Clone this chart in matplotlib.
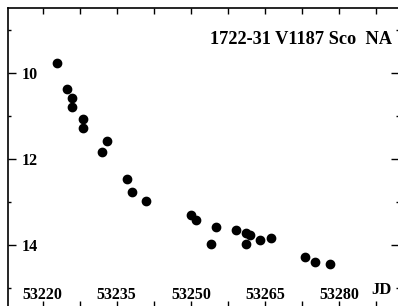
import matplotlib
matplotlib.use('Agg')
import matplotlib.pyplot as plt
from matplotlib.ticker import MultipleLocator

# light curve
jd = [53223.0, 53225.0, 53226.0, 53226.0, 53228.2, 53228.2, 53233.0, 53232.0,
      53237.0, 53238.0, 53240.9, 53250.0, 53251.1, 53255.0, 53254.1, 53259.1,
      53261.1, 53262.0, 53261.1, 53264.0, 53266.2, 53273.0, 53275.1, 53278.1]
mag = [9.77, 10.38, 10.59, 10.79, 11.08, 11.27, 11.57, 11.83,
       12.47, 12.77, 12.98, 13.31, 13.41, 13.58, 13.97, 13.66,
       13.73, 13.76, 13.97, 13.88, 13.84, 14.28, 14.40, 14.45]

title = '1722-31 V1187 Sco  NA'

plt.rcParams['font.family'] = ['Liberation Serif', 'DejaVu Serif']
plt.rcParams['font.weight'] = 'bold'

fig = plt.figure(figsize=(3.98, 3.06), dpi=100)
ax = fig.add_axes([8/398, -1/306, 391/398, 299/306])
ax.plot(jd, mag, 'o', color='black', markersize=6)

ax.set_xlim(53213.0, 53292.1)
ax.set_ylim(15.44, 8.49)
ax.xaxis.set_major_locator(MultipleLocator(15))
ax.xaxis.set_minor_locator(MultipleLocator(7.5))
ax.yaxis.set_major_locator(MultipleLocator(2))
ax.yaxis.set_minor_locator(MultipleLocator(1))

for s in ax.spines.values():
    s.set_linewidth(1.2)

ax.tick_params(which='both', direction='in', top=True, right=True, width=1)
ax.tick_params(axis='y', which='major', length=6, pad=-9.5, labelsize=11.5)
ax.tick_params(axis='y', which='minor', length=2)
ax.tick_params(axis='x', which='both', length=4)
ax.tick_params(axis='x', which='major', pad=-5.8, labelsize=11.5)
for t in ax.yaxis.get_major_ticks():
    t.label1.set_horizontalalignment('left')
for t in ax.xaxis.get_major_ticks():
    t.label1.set_verticalalignment('baseline')

fig.text(392/398, 1 - 39/306, title, ha='right', va='center', fontsize=13.2)
fig.text(392/398, 1 - 290/306, 'JD', ha='right', va='center', fontsize=12)

fig.savefig('out.png', dpi=100)
